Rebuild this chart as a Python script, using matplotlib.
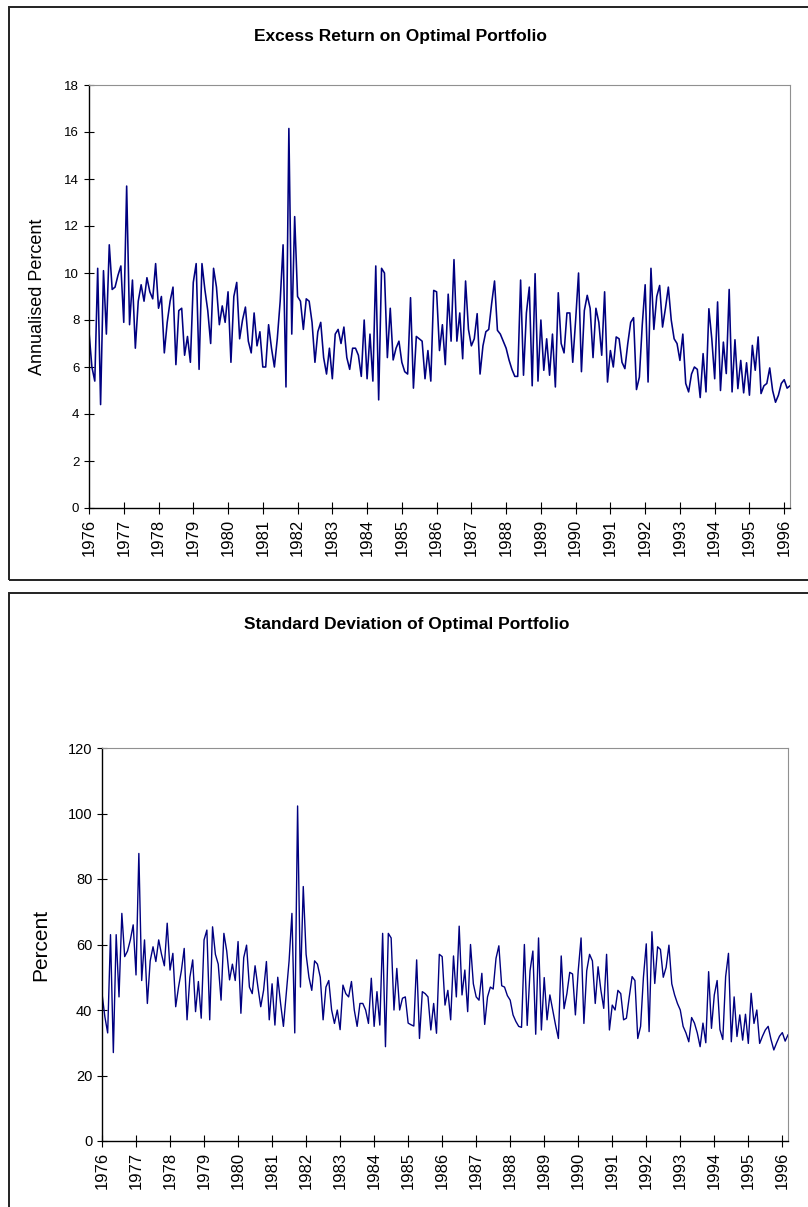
import matplotlib
matplotlib.use("Agg")
import matplotlib.pyplot as plt
from matplotlib.patches import Rectangle

plt.rcParams["font.family"] = ["Liberation Sans", "DejaVu Sans"]

# monthly observations, Jan 1976 .. Mar 1996
excess_return = [
    7.5, 6.0, 5.4, 10.2, 4.4, 10.1, 7.4, 11.2, 9.3, 9.4, 9.9, 10.3,      # 1976
    7.9, 13.7, 7.8, 9.7, 6.8, 8.8, 9.5, 8.8, 9.8, 9.2, 8.9, 10.4,        # 1977
    8.5, 9.0, 6.6, 7.9, 8.8, 9.4, 6.1, 8.4, 8.5, 6.5, 7.3, 6.2,          # 1978
    9.6, 10.4, 5.9, 10.4, 9.3, 8.4, 7.0, 10.2, 9.4, 7.8, 8.6, 7.9,       # 1979
    9.2, 6.2, 9.0, 9.6, 7.2, 8.0, 8.55, 7.1, 6.6, 8.3, 6.9, 7.5,         # 1980
    6.0, 6.0, 7.8, 6.8, 6.0, 7.2, 8.8, 11.2, 5.15, 16.15, 7.4, 12.4,     # 1981
    9.0, 8.8, 7.6, 8.9, 8.8, 7.9, 6.2, 7.5, 7.9, 6.4, 5.7, 6.8,          # 1982
    5.5, 7.4, 7.6, 7.0, 7.7, 6.4, 5.9, 6.8, 6.8, 6.5, 5.6, 8.0,          # 1983
    5.5, 7.4, 5.4, 10.3, 4.6, 10.2, 10.0, 6.4, 8.5, 6.3, 6.8, 7.1,       # 1984
    6.2, 5.8, 5.7, 8.95, 5.1, 7.3, 7.2, 7.1, 5.5, 6.7, 5.4, 9.26,        # 1985
    9.2, 6.7, 7.8, 6.1, 9.1, 7.1, 10.57, 7.1, 8.3, 6.35, 9.66, 7.6,      # 1986
    6.9, 7.2, 8.27, 5.7, 6.9, 7.5, 7.6, 8.7, 9.66, 7.56, 7.4, 7.1,       # 1987
    6.8, 6.3, 5.9, 5.6, 5.6, 9.7, 5.65, 8.3, 9.4, 5.2, 9.97, 5.4,        # 1988
    8.0, 5.86, 7.2, 5.65, 7.4, 5.15, 9.16, 7.0, 6.6, 8.3, 8.3, 6.2,      # 1989
    8.0, 10.0, 5.8, 8.4, 9.05, 8.5, 6.4, 8.5, 7.9, 6.5, 9.2, 5.36,       # 1990
    6.7, 6.0, 7.28, 7.2, 6.2, 5.93, 7.0, 7.9, 8.1, 5.04, 5.57, 7.8,      # 1991
    9.5, 5.36, 10.2, 7.6, 9.0, 9.47, 7.7, 8.5, 9.4, 8.0, 7.2, 7.0,       # 1992
    6.28, 7.4, 5.3, 4.94, 5.7, 6.0, 5.9, 4.7, 6.57, 4.94, 8.48, 7.2,     # 1993
    5.5, 8.77, 5.0, 7.06, 5.72, 9.3, 4.94, 7.16, 5.08, 6.28, 4.9, 6.18,  # 1994
    4.8, 6.92, 5.86, 7.28, 4.87, 5.2, 5.3, 5.96, 5.0, 4.5, 4.8, 5.3,     # 1995
    5.46, 5.1, 5.2,                                                      # 1996
]

std_dev = [
    45, 38, 33, 63, 27, 63, 44, 69.5, 56.3, 58, 61.4, 66,
    50.7, 87.8, 49, 61.4, 42, 55, 59.3, 54.8, 61.4, 57, 53.5, 66.5,
    52.2, 57.3, 41, 47, 52, 58.8, 37, 50, 55.3, 39.5, 48.7, 37.5,
    61.4, 64.4, 37, 65.4, 57, 54, 43, 63.4, 58, 49.2, 54, 49,
    60.9, 39, 56, 59.8, 47, 45, 53.5, 47, 41, 46, 54.8, 37,
    48, 35.4, 50, 42, 35, 45, 55, 69.5, 33, 102.3, 47, 77.7,
    57, 50, 46, 55, 54, 50, 37, 47, 49, 40, 35.9, 40,
    34, 47.6, 45, 44, 48.7, 40, 35, 42, 42, 40, 35.9, 49.7,
    35, 45.6, 35.4, 63.4, 28.8, 63.4, 62, 40, 52.7, 40, 43.6, 44,
    36, 35.5, 35.1, 55.3, 31.3, 45.6, 45, 44, 33.9, 42, 32.9, 57,
    56.3, 41.5, 46, 37, 56.5, 44, 65.6, 44.6, 52.2, 39.5, 60, 48,
    44, 43, 51.2, 35.6, 44, 47, 46.4, 55.8, 59.6, 47.4, 47, 44.4,
    43, 38.5, 36.5, 35, 34.7, 60, 35.3, 52, 58, 32.6, 62, 33.9,
    49.9, 37, 44.6, 40, 35.4, 31.3, 56.5, 40.4, 45, 51.5, 51, 38.5,
    52, 62, 35.9, 52, 57, 55, 42, 53.2, 46, 40.5, 57, 33.9,
    41.5, 40, 46, 45, 37, 37.5, 44, 50.2, 49, 31.3, 35, 50,
    60.2, 33.4, 63.9, 48.1, 59.3, 58.5, 50, 53, 59.8, 48, 44.6, 42,
    40, 35, 33, 30.3, 37.7, 36, 33, 28.8, 36, 30, 51.7, 34.4,
    44.6, 49, 34, 31, 50.2, 57.3, 30.3, 44, 31.9, 38.5, 30.8, 38.7,
    29.8, 45.1, 35.9, 40, 29.8, 32, 33.9, 35, 31, 27.8, 30, 32,
    33.1, 30.5, 32.4,
]

years = [str(y) for y in range(1976, 1997)]

W, H = 808, 1207
fig = plt.figure(figsize=(W / 100, H / 100), dpi=100)


def frac(x0, y0, x1, y1):
    # pixel box (top-left origin) -> figure fraction [l, b, w, h]
    return [x0 / W, 1 - y1 / H, (x1 - x0) / W, (y1 - y0) / H]


# panel frames
for x0, y0, x1, y1 in [(9, 7, 812, 580), (9, 593, 812, 1215)]:
    l, b, w, h = frac(x0, y0, x1, y1)
    fig.patches.append(Rectangle((l, b), w, h, transform=fig.transFigure,
                                 fill=False, edgecolor="#222222", lw=1.4,
                                 clip_on=False))


def style(ax, series, ymax, ystep, tick_fs, lw):
    ax.plot(range(len(series)), series, color="#000080", lw=lw)
    ax.set_xlim(0, len(series) - 1)
    ax.set_ylim(0, ymax)
    ax.set_yticks(range(0, ymax + 1, ystep))
    ax.set_xticks(range(0, 12 * len(years), 12))
    ax.set_xticklabels(years, rotation=90, fontsize=12)
    ax.tick_params(axis="y", labelsize=tick_fs, direction="inout", length=7, width=0.8)
    ax.tick_params(axis="x", direction="inout", length=9, width=0.8, pad=3)
    for side in ["top", "right"]:
        ax.spines[side].set_color("#909090")
        ax.spines[side].set_linewidth(0.8)
    for side in ["left", "bottom"]:
        ax.spines[side].set_color("black")
        ax.spines[side].set_linewidth(1.0)


ax1 = fig.add_axes(frac(89, 85, 790, 508))
style(ax1, excess_return, 18, 2, 9.5, 1.15)
ax1.set_ylabel("Annualised Percent", fontsize=13)
ax1.yaxis.set_label_coords(-0.062, 0.5)
fig.text(400 / W, 1 - 37 / H, "Excess Return on Optimal Portfolio",
         ha="center", va="center", fontsize=12.5, fontweight="bold")

ax2 = fig.add_axes(frac(102, 748, 788, 1141))
style(ax2, std_dev, 120, 20, 10.5, 1.0)
ax2.set_ylabel("Percent", fontsize=15)
ax2.yaxis.set_label_coords(-0.075, 0.5)
fig.text(407 / W, 1 - 625 / H, "Standard Deviation of Optimal Portfolio",
         ha="center", va="center", fontsize=12.5, fontweight="bold")

fig.savefig("out.png", dpi=100)
